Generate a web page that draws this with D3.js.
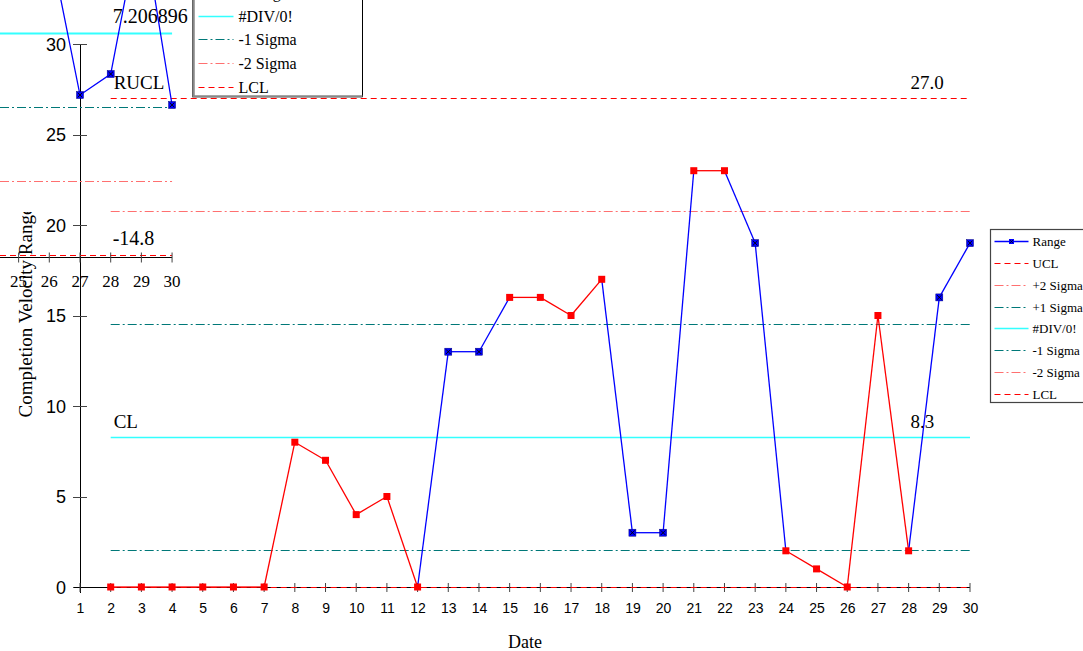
<!DOCTYPE html>
<html>
<head>
<meta charset="utf-8">
<script src="https://cdn.jsdelivr.net/npm/d3@7"></script>
<style>
  body { margin: 0; background: #fff; }
  svg { display: block; font-family: "Liberation Serif", "Times New Roman", serif; }
</style>
</head>
<body>
<svg id="chart" width="1083" height="651"></svg>
<script>
// days on the x axis
const dayLabels = [1, 2, 3, 4, 5, 6, 7, 8, 9, 10, 11, 12, 13, 14, 15,
  16, 17, 18, 19, 20, 21, 22, 23, 24, 25, 26, 27, 28, 29, 30];
// moving range per day (day 1 has none)
const rangeValues = [null, 0, 0, 0, 0, 0, 0, 8, 7, 4, 5, 0, 13, 13, 16,
  16, 15, 17, 3, 3, 23, 23, 19, 2, 1, 0, 15, 2, 16, 19];
// 1 = point flagged by a run rule (drawn red)
const flagged = [null, 1, 1, 1, 1, 1, 1, 1, 1, 1, 1, 1, 0, 0, 1,
  1, 1, 1, 0, 0, 1, 1, 0, 1, 1, 1, 1, 1, 0, 0];

const limitNames = ["UCL", "+2 Sigma", "+1 Sigma", "#DIV/0!", "-1 Sigma", "-2 Sigma", "LCL"];
const limitValues = [27.0, 20.77, 14.53, 8.3, 2.07, -4.17, 0];
const leftLabels = { "UCL": "RUCL", "#DIV/0!": "CL" };
const rightLabels = { "UCL": "27.0", "#DIV/0!": "8.3" };
const yTicks = [0, 5, 10, 15, 20, 25, 30];

// leftover copy of an older chart that sits over the top left corner
const insetDays = [25, 26, 27, 28, 29, 30];
const insetRange = [null, 16.2, 1.06, 3.14, 18.9, 0.07];
const insetLimitValues = [29.21, 21.88, 14.54, 7.206896, -0.129, -7.464, -14.8];
const insetRightLabels = { "#DIV/0!": "7.206896", "LCL": "-14.8" };
const insetLegendNames = ["+1 Sigma", "#DIV/0!", "-1 Sigma", "-2 Sigma", "LCL"];

const legendNames = ["Range"].concat(limitNames);

const styles = {
  "Range": { color: "#0000FF", dash: null, width: 1.3 },
  "UCL": { color: "#FF0000", dash: "6,4", width: 1 },
  "+2 Sigma": { color: "#FF7070", dash: "9,3,2,3", width: 1 },
  "+1 Sigma": { color: "#007878", dash: "9,3,2,3", width: 1 },
  "#DIV/0!": { color: "#33FFFF", dash: null, width: 1.5 },
  "-1 Sigma": { color: "#007878", dash: "9,3,2,3", width: 1 },
  "-2 Sigma": { color: "#FF7070", dash: "9,3,2,3", width: 1 },
  "LCL": { color: "#FF0000", dash: "6,4", width: 1 }
};

const svg = d3.select("#chart");

const x = d3.scalePoint().domain(dayLabels).range([80, 970]);
const y = d3.scaleLinear().domain([0, 30]).range([587, 44]);

// snap thin horizontal rules to the pixel grid
const snap = v => Math.round(v) + 0.5;

function styled(sel, name) {
  const s = styles[name];
  sel.attr("stroke", s.color)
    .attr("stroke-width", s.width)
    .attr("stroke-dasharray", s.dash)
    .attr("fill", "none");
  return sel;
}

function marker(g, cx, cy, red) {
  if (red) {
    g.append("rect").attr("x", cx - 3.5).attr("y", cy - 3.5)
      .attr("width", 7).attr("height", 7).attr("fill", "#FF0000");
  } else {
    g.append("rect").attr("x", cx - 3.5).attr("y", cy - 3.5)
      .attr("width", 7).attr("height", 7).attr("fill", "#0000FF")
      .attr("stroke", "#000080").attr("stroke-width", 0.5);
    g.append("path")
      .attr("d", `M${cx - 2.3},${cy - 2.3}L${cx + 2.3},${cy + 2.3}M${cx + 2.3},${cy - 2.3}L${cx - 2.3},${cy + 2.3}`)
      .attr("stroke", "#000").attr("stroke-width", 0.9);
  }
}

// ---------- main chart ----------
const main = svg.append("g");

// y axis title (its end is lost under the old copy)
svg.append("clipPath").attr("id", "titleClip")
  .append("rect").attr("x", 0).attr("y", 212).attr("width", 60).attr("height", 300);
main.append("g").attr("clip-path", "url(#titleClip)")
  .append("text")
  .attr("transform", `translate(32,312) rotate(-90)`)
  .attr("text-anchor", "middle")
  .style("font-size", "19px")
  .text("Completion Velocity Range");

main.append("text")
  .attr("x", (x(1) + x(30)) / 2).attr("y", 648)
  .attr("text-anchor", "middle")
  .style("font-size", "18px")
  .text("Date");

// y axis
const yAxis = main.append("g").attr("transform", `translate(${x(1)},0)`)
  .call(d3.axisLeft(y).tickValues(yTicks).tickSize(0).tickPadding(14).tickFormat(d3.format("d")));
yAxis.select(".domain").remove();
yAxis.selectAll("text").style("font-size", "18px").attr("fill", "#000").attr("dy", "0.34em");
main.append("line").attr("x1", x(1) + 0.5).attr("x2", x(1) + 0.5).attr("y1", y(30)).attr("y2", y(0) + 6)
  .attr("stroke", "#000");
main.selectAll(".ytick").data(yTicks).join("line")
  .attr("x1", x(1) - 7).attr("x2", x(1) + 7)
  .attr("y1", d => snap(y(d))).attr("y2", d => snap(y(d)))
  .attr("stroke", "#444");

// x axis
const xAxis = main.append("g").attr("transform", `translate(0,${y(0)})`)
  .call(d3.axisBottom(x).tickSize(0).tickPadding(16));
xAxis.select(".domain").remove();
xAxis.selectAll("text").style("font-size", "14px").attr("fill", "#000");
main.append("line").attr("x1", x(1) - 6).attr("x2", x(30)).attr("y1", snap(y(0))).attr("y2", snap(y(0)))
  .attr("stroke", "#000");
main.selectAll(".xtick").data(dayLabels).join("line")
  .attr("x1", d => x(d)).attr("x2", d => x(d))
  .attr("y1", y(0) - 4).attr("y2", y(0) + 5)
  .attr("stroke", "#444");

// control limits
limitNames.forEach((name, i) => {
  const v = limitValues[i];
  if (v < 0) return;
  styled(main.append("line"), name)
    .attr("x1", x(2)).attr("x2", x(30))
    .attr("y1", snap(y(v))).attr("y2", snap(y(v)));
  if (leftLabels[name]) {
    main.append("text").attr("x", x(2) + 3).attr("y", y(v) - 9)
      .style("font-size", "19px").text(leftLabels[name]);
  }
  if (rightLabels[name]) {
    main.append("text").attr("x", x(28) + 2).attr("y", y(v) - 9)
      .style("font-size", "19px").text(rightLabels[name]);
  }
});

// range series, a segment is red when both its ends are flagged
for (let i = 1; i < dayLabels.length - 1; i++) {
  const red = flagged[i] && flagged[i + 1];
  main.append("line")
    .attr("x1", x(dayLabels[i])).attr("y1", y(rangeValues[i]))
    .attr("x2", x(dayLabels[i + 1])).attr("y2", y(rangeValues[i + 1]))
    .attr("stroke", red ? "#FF0000" : "#0000FF")
    .attr("stroke-width", 1.3);
}
const marks = main.append("g");
dayLabels.forEach((d, i) => {
  if (rangeValues[i] == null) return;
  marker(marks, x(d), y(rangeValues[i]), flagged[i] === 1);
});

// legend
const leg = main.append("g").attr("transform", "translate(990.5,229.5)");
leg.append("rect").attr("width", 130).attr("height", 173)
  .attr("fill", "#fff").attr("stroke", "#444").attr("stroke-width", 1.2);
legendNames.forEach((name, i) => {
  const cy = Math.round(12 + i * 21.86);
  styled(leg.append("line"), name)
    .attr("x1", 4).attr("x2", 38).attr("y1", cy).attr("y2", cy);
  if (name === "Range") {
    leg.append("rect").attr("x", 18.5).attr("y", cy - 2.5).attr("width", 5).attr("height", 5)
      .attr("fill", "#0000FF");
    leg.append("path").attr("d", `M19.5,${cy - 1.5}L22.5,${cy + 1.5}M22.5,${cy - 1.5}L19.5,${cy + 1.5}`)
      .attr("stroke", "#000").attr("stroke-width", 0.7);
  }
  leg.append("text").attr("x", 42).attr("y", cy).attr("dy", "0.35em")
    .style("font-size", "13px").text(name);
});

// ---------- old copy in the corner ----------
const inset = svg.append("g");
const xi = d3.scalePoint().domain(dayLabels).range([x(1) - 26 * (x(2) - x(1)), x(1) + 3 * (x(2) - x(1))]);
const yi = d3.scaleLinear().domain([-14.8, 7.206896]).range([255, 33]);

limitNames.forEach((name, i) => {
  const v = insetLimitValues[i];
  styled(inset.append("line"), name)
    .attr("x1", 0).attr("x2", xi(30))
    .attr("y1", snap(yi(v))).attr("y2", snap(yi(v)))
    .attr("stroke-width", name === "#DIV/0!" ? 2.2 : 1);
  if (insetRightLabels[name]) {
    inset.append("text").attr("x", xi(28) + 2).attr("y", yi(v) - 10)
      .style("font-size", "20px").text(insetRightLabels[name]);
  }
});

const axisY = snap(yi(-14.8) + 2);
inset.append("line").attr("x1", 0).attr("x2", xi(30)).attr("y1", axisY).attr("y2", axisY)
  .attr("stroke", "#000");
inset.selectAll(".itick").data(insetDays).join("line")
  .attr("x1", d => xi(d)).attr("x2", d => xi(d))
  .attr("y1", axisY - 5).attr("y2", axisY + 5)
  .attr("stroke", "#444");
inset.selectAll(".ilabel").data(insetDays).join("text")
  .attr("x", d => xi(d)).attr("y", axisY + 29)
  .attr("text-anchor", "middle")
  .style("font-size", "17px").text(d => d);

const insetLine = d3.line()
  .defined(d => d[1] != null)
  .x(d => xi(d[0])).y(d => yi(d[1]));
inset.append("path")
  .datum(insetDays.map((d, i) => [d, insetRange[i]]))
  .attr("d", insetLine)
  .attr("fill", "none").attr("stroke", "#0000FF").attr("stroke-width", 1.3);
insetDays.forEach((d, i) => {
  if (insetRange[i] == null) return;
  marker(inset, xi(d), yi(insetRange[i]), false);
});

// its legend, mostly above the page
const ileg = inset.append("g").attr("transform", "translate(192.5,-29.5)");
ileg.append("rect").attr("width", 170).attr("height", 126)
  .attr("fill", "#fff").attr("stroke", "#000").attr("stroke-width", 1);
ileg.append("path").attr("d", "M1,0V126H170")
  .attr("fill", "none").attr("stroke", "#888").attr("stroke-width", 2.5);
insetLegendNames.forEach((name, i) => {
  const cy = Math.round(22 + i * 23.7);
  styled(ileg.append("line"), name)
    .attr("x1", 6).attr("x2", 41).attr("y1", cy).attr("y2", cy);
  ileg.append("text").attr("x", 46).attr("y", cy).attr("dy", "0.35em")
    .style("font-size", "16px").text(name);
});
</script>
</body>
</html>
